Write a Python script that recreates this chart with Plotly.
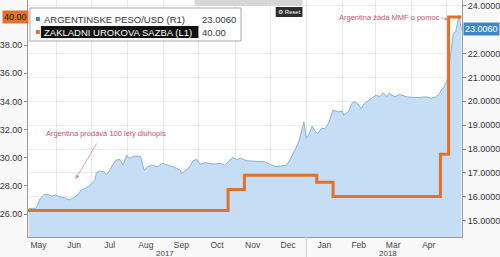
import plotly.graph_objects as go

# ---- data ----
peso_dates = [
    "2017-05-08", "2017-05-14", "2017-05-15", "2017-05-18", "2017-05-21", "2017-05-25", "2017-05-28",
    "2017-05-31", "2017-06-04", "2017-06-08", "2017-06-12", "2017-06-15", "2017-06-19", "2017-06-22",
    "2017-06-25", "2017-06-28", "2017-07-01", "2017-07-04", "2017-07-05", "2017-07-08", "2017-07-11",
    "2017-07-14", "2017-07-16", "2017-07-19", "2017-07-22", "2017-07-25", "2017-07-28", "2017-07-31",
    "2017-08-02", "2017-08-05", "2017-08-09", "2017-08-12", "2017-08-15", "2017-08-18", "2017-08-22",
    "2017-08-26", "2017-08-31", "2017-09-04", "2017-09-09", "2017-09-15", "2017-09-16", "2017-09-22",
    "2017-09-26", "2017-09-29", "2017-10-02", "2017-10-06", "2017-10-10", "2017-10-14", "2017-10-19",
    "2017-10-23", "2017-10-26", "2017-10-30", "2017-11-02", "2017-11-06", "2017-11-11", "2017-11-15",
    "2017-11-21", "2017-11-26", "2017-12-01", "2017-12-03", "2017-12-06", "2017-12-10", "2017-12-15",
    "2017-12-17", "2017-12-20", "2017-12-23", "2017-12-26", "2017-12-29", "2017-12-30", "2018-01-01",
    "2018-01-03", "2018-01-06", "2018-01-09", "2018-01-11", "2018-01-14", "2018-01-17", "2018-01-20",
    "2018-01-22", "2018-01-24", "2018-01-29", "2018-02-01", "2018-02-02", "2018-02-06", "2018-02-09",
    "2018-02-11", "2018-02-14", "2018-02-17", "2018-02-20", "2018-02-24", "2018-02-27", "2018-03-02",
    "2018-03-05", "2018-03-08", "2018-03-11", "2018-03-13", "2018-03-18", "2018-03-22", "2018-03-28",
    "2018-04-02", "2018-04-08", "2018-04-14", "2018-04-18", "2018-04-22", "2018-04-25", "2018-04-27",
    "2018-04-29", "2018-05-02", "2018-05-03", "2018-05-04", "2018-05-07", "2018-05-09", "2018-05-12",
    "2018-05-14",
]
peso_values = [
    15.52, 15.52, 15.59, 15.94, 16.08, 16.10, 16.03,
    16.08, 16.00, 15.96, 15.87, 15.94, 16.08, 16.28,
    16.35, 16.42, 16.56, 16.70, 17.00, 17.09, 17.05,
    16.95, 17.05, 17.33, 17.54, 17.57, 17.33, 17.75,
    17.61, 17.68, 17.71, 17.68, 17.12, 17.26, 17.33,
    17.26, 17.40, 17.33, 17.26, 17.12, 16.98, 17.19,
    17.51, 17.57, 17.37, 17.43, 17.40, 17.37, 17.40,
    17.33, 17.47, 17.65, 17.57, 17.61, 17.51, 17.50,
    17.50, 17.47, 17.36, 17.33, 17.26, 17.29, 17.33,
    17.47, 17.75, 18.03, 18.38, 18.93, 19.14, 18.45,
    18.59, 18.96, 18.72, 18.66, 18.87, 18.85, 19.08,
    19.35, 19.63, 19.56, 19.60, 19.42, 19.56, 19.91,
    19.98, 19.91, 19.70, 19.91, 20.05, 20.19, 20.26,
    20.19, 20.36, 20.19, 20.33, 20.19, 20.29, 20.19,
    20.16, 20.16, 20.19, 20.12, 20.19, 20.30, 20.50,
    20.58, 20.89, 21.44, 21.70, 22.85, 22.90, 23.60,
    23.006,
]
rate_dates = ["2017-05-07", "2017-10-26", "2017-11-09", "2018-01-10", "2018-01-24",
              "2018-04-26", "2018-05-03", "2018-05-14"]
rate_values = [26.25, 27.75, 28.75, 28.25, 27.25, 30.25, 40.00, 40.00]

left_ticks = [26, 28, 30, 32, 34, 36, 38]
right_ticks = [15, 16, 17, 18, 19, 20, 21, 22, 24]

peso_name = "ARGENTINSKE PESO/USD (R1)"
rate_name = "ZAKLADNI UROKOVA SAZBA (L1)"
peso_last = "23.0060"
rate_last = "40.00"

# ---- layout geometry (pixels) ----
W, H = 500, 257
L, R, T, B = 25, 37, 0, 20
PW, PH = W - L - R, H - T - B


def px(x):
    return (x - L) / PW


def py(y):
    return (H - B - y) / PH


BLUE_LINE = "#8ab1d9"
BLUE_FILL = "#c5ddf5"
ORANGE = "#e2712a"
FONT = "Liberation Sans"

fig = go.Figure()
fig.add_trace(go.Scatter(
    x=peso_dates, y=peso_values, yaxis="y", mode="lines",
    line=dict(color=BLUE_LINE, width=1), fill="tozeroy", fillcolor=BLUE_FILL,
    showlegend=False, hoverinfo="skip"))
fig.add_trace(go.Scatter(
    x=rate_dates, y=rate_values, yaxis="y2", mode="lines",
    line=dict(color=ORANGE, width=3, shape="hv"),
    showlegend=False, hoverinfo="skip"))

fig.update_layout(
    width=W, height=H, margin=dict(l=L, r=R, t=T, b=B),
    paper_bgcolor="#f9f9f9", plot_bgcolor="#ffffff",
    font=dict(family=FONT, size=9, color="#444"),
    xaxis=dict(
        type="date", range=["2017-05-07 12:00", "2018-05-14 12:00"],
        tick0="2017-05-01", dtick="M1", tickformat="%b", ticklabelmode="period",
        ticks="", showgrid=True, gridcolor="#e6e6e6", gridwidth=1,
        minor=dict(ticks="outside", ticklen=3, tickcolor="#999",
                   tick0="2017-05-01", dtick="M1", showgrid=False),
        showline=True, linecolor="#999", linewidth=1,
        tickfont=dict(size=8.5, color="#444"),
    ),
    yaxis=dict(
        side="right", range=[14.32, 24.24], tickvals=right_ticks,
        tickformat=".4f", ticks="outside", ticklen=3, tickcolor="#888",
        showgrid=True, gridcolor="#ececec", zeroline=False,
        showline=True, linecolor="#999", linewidth=1,
        tickfont=dict(size=9, color="#333"),
    ),
    yaxis2=dict(
        overlaying="y", side="left", range=[24.37, 41.2], tickvals=left_ticks,
        tickformat=".2f", ticks="outside", ticklen=3, tickcolor="#888",
        showgrid=False, zeroline=False,
        showline=True, linecolor="#999", linewidth=1,
        tickfont=dict(size=9, color="#333"),
    ),
)

shapes = []
annotations = []


def note(x, y, text, size, color, xanchor="center", **kw):
    d = dict(x=x, y=y, text=text, showarrow=False, xanchor=xanchor, yanchor="middle",
             font=dict(family=FONT, size=size, color=color))
    d.setdefault("xref", "paper")
    d.setdefault("yref", "paper")
    d.update(kw)
    annotations.append(d)


# legend box
shapes.append(dict(type="rect", xref="paper", yref="paper",
                   x0=px(27), x1=px(240), y0=py(41), y1=py(8),
                   fillcolor="rgba(255,255,255,0.9)", line=dict(color="#a8a8a8", width=1)))
shapes.append(dict(type="rect", xref="paper", yref="paper",
                   x0=px(33), x1=px(37), y0=py(21), y1=py(17),
                   fillcolor="#3d82c8", line=dict(width=0)))
shapes.append(dict(type="rect", xref="paper", yref="paper",
                   x0=px(33), x1=px(37), y0=py(34), y1=py(30),
                   fillcolor=ORANGE, line=dict(width=0)))
shapes.append(dict(type="rect", xref="paper", yref="paper",
                   x0=px(38), x1=px(197), y0=py(38), y1=py(26),
                   fillcolor="#111111", line=dict(width=0)))
note(px(39), py(19), peso_name, 9.5, "#333", xanchor="left")
note(px(199), py(19), peso_last, 9.5, "#333", xanchor="left")
note(px(39), py(32), rate_name, 9.5, "#ffffff", xanchor="left")
note(px(199), py(32), rate_last, 9.5, "#333", xanchor="left")

# toolbar buttons (faded)
shapes.append(dict(type="rect", xref="paper", yref="paper",
                   x0=px(193), x1=px(302), y0=py(6), y1=py(0),
                   fillcolor="#d6d6d6", line=dict(width=0)))
shapes.append(dict(type="rect", xref="paper", yref="paper",
                   x0=px(275), x1=px(302), y0=py(17), y1=py(7),
                   fillcolor="#2e2e2e", line=dict(width=0)))
note(px(288.5), py(12), "⚙ Reset", 6, "#ffffff")

# value badges
note(px(12), rate_values[-1], rate_last, 9, "#222", yref="y2", bgcolor=ORANGE, borderpad=1)
note(px(483), peso_values[-1], peso_last, 9, "#ffffff", yref="y", bgcolor="#3f87c8", borderpad=1)

# year labels and separator
note("2017-09-02", py(253.6), "2017", 8, "#444", xref="x")
note("2018-03-12", py(253.6), "2018", 8, "#444", xref="x")
shapes.append(dict(type="line", xref="x", yref="paper", x0="2018-01-01", x1="2018-01-01",
                   y0=py(257), y1=py(237), line=dict(color="#cccccc", width=1)))

# event notes
NOTE = "#c4506c"
note(px(104), py(133), "Argentina prodává 100 letý dluhopis", 7.5, NOTE)
annotations.append(dict(xref="paper", yref="paper", x=px(73), y=py(179), text="",
                        showarrow=True, ax=22, ay=-37, arrowhead=2, arrowsize=1,
                        arrowwidth=0.8, arrowcolor="#d98a9a"))
note(px(390), py(17), "Argentina žádá MMF o pomoc", 7.5, NOTE)
annotations.append(dict(xref="paper", yref="paper", x=px(449), y=py(20), text="",
                        showarrow=True, ax=-9, ay=-3, arrowhead=2, arrowsize=0.8,
                        arrowwidth=0.8, arrowcolor="#d98a9a"))

fig.update_layout(shapes=shapes, annotations=annotations)
fig.write_html("out.html")
